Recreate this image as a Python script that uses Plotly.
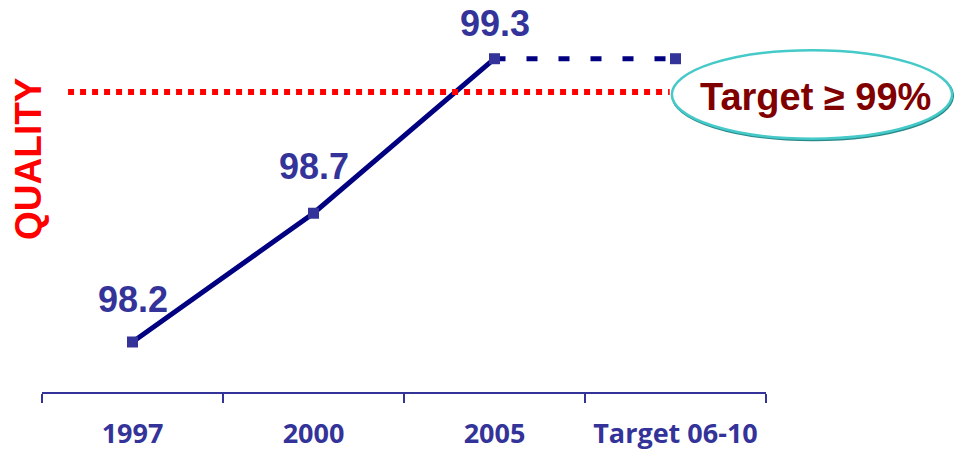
import plotly.graph_objects as go

# --- data -------------------------------------------------------------
CATEGORIES = ["1997", "2000", "2005", "Target 06-10"]
QUALITY = [98.2, 98.7, 99.3, 99.3]          # last point: projected level for 06-10
LABELS = ["98.2", "98.7", "99.3"]           # values printed above the measured points
TARGET = 99.0
TARGET_TEXT = "Target \u2265 99%"

# --- styling ------------------------------------------------------------
NAVY = "#000080"
MARK = "#333399"
RED = "#ff0000"
MAROON = "#800000"
TEAL = "#45c9c9"
TEAL_DARK = "#2a8a8a"
LABEL_LIFT = [42, 47, 35]                   # px above each marker for value labels

fig = go.Figure()

# measured trend (solid)
fig.add_trace(go.Scatter(
    x=CATEGORIES[:3], y=QUALITY[:3], mode="lines",
    line=dict(color=NAVY, width=5), hoverinfo="skip", showlegend=False,
))
# projection to target period (dashed)
fig.add_trace(go.Scatter(
    x=CATEGORIES[2:], y=QUALITY[2:], mode="lines",
    line=dict(color=NAVY, width=5, dash="11px,21px"), hoverinfo="skip", showlegend=False,
))
# square markers on every point
fig.add_trace(go.Scatter(
    x=CATEGORIES, y=QUALITY, mode="markers",
    marker=dict(symbol="square", size=11, color=MARK), showlegend=False,
))

# target reference line on its own overlaid scale
fig.add_shape(
    type="line", xref="paper", yref="y2",
    x0=0.036, x1=0.867, y0=TARGET, y1=TARGET,
    line=dict(color=RED, width=6, dash="6px,6px"),
)

# value labels (category axis positions given by index)
for idx, (val, txt, lift) in enumerate(zip(QUALITY, LABELS, LABEL_LIFT)):
    fig.add_annotation(
        x=idx, y=val, text=txt, showarrow=False,
        yshift=lift, xanchor="center", yanchor="middle",
        font=dict(family="Liberation Sans", size=36, weight="bold", color=MARK),
    )

# target callout ellipse (soft shadow + outline)
fig.add_shape(type="circle", xref="paper", yref="paper",
              x0=0.871, x1=1.258, y0=0.643, y1=0.869,
              line=dict(color=TEAL_DARK, width=2.5), fillcolor="white", layer="above")
fig.add_shape(type="circle", xref="paper", yref="paper",
              x0=0.870, x1=1.257, y0=0.646, y1=0.872,
              line=dict(color=TEAL, width=2.5), fillcolor="white", layer="above")
fig.add_annotation(
    xref="paper", yref="paper", x=1.069, y=0.753,
    text=TARGET_TEXT, showarrow=False,
    xanchor="center", yanchor="middle",
    font=dict(family="Liberation Sans", size=38, weight="bold", color=MAROON),
)

# vertical axis caption
fig.add_annotation(
    xref="paper", yref="paper", x=-0.018, y=0.597,
    text="QUALITY", showarrow=False, textangle=-90,
    xanchor="center", yanchor="middle",
    font=dict(family="Liberation Sans", size=37, weight="bold", color=RED),
)

fig.update_layout(
    width=954, height=451,
    margin=dict(l=42, r=188, t=0, b=59),
    paper_bgcolor="white", plot_bgcolor="white",
    xaxis=dict(
        type="category", range=[-0.5, 3.5], tickson="boundaries",
        showline=True, linecolor=MARK, linewidth=1.5,
        ticks="outside", ticklen=9, tickwidth=1.5, tickcolor=MARK,
        ticklabelstandoff=17,
        showgrid=False, zeroline=False,
        tickfont=dict(family="Open Sans", size=27, weight="bold", color=MARK),
    ),
    yaxis=dict(range=[98.0058, 99.528], visible=False, showgrid=False),
    yaxis2=dict(range=[97.835, 99.357], overlaying="y", visible=False, showgrid=False),
)

fig.write_html("out.html")
